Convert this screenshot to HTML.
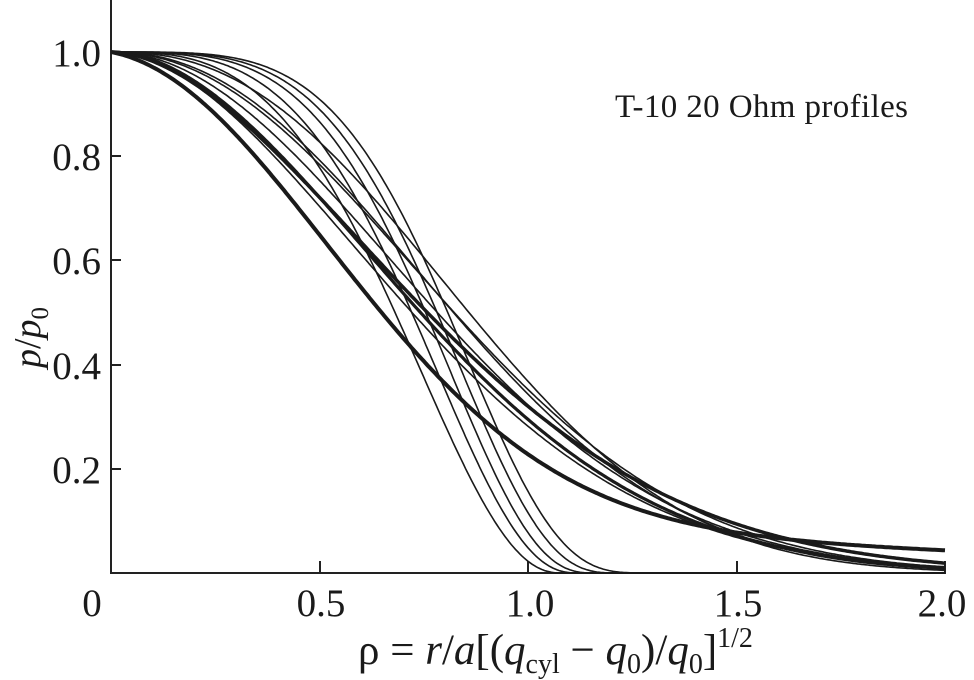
<!DOCTYPE html>
<html><head><meta charset="utf-8"><style>
body{margin:0;background:#fff;}
svg{display:block;font-family:"Liberation Serif",serif;}
</style></head><body>
<svg id="s" width="974" height="680" viewBox="0 0 974 680">
<g stroke="#222" stroke-width="2" fill="none">
<line x1="111" y1="0" x2="111" y2="574"/>
<line x1="110" y1="573" x2="946" y2="573"/>
<line x1="111" y1="52" x2="121" y2="52"/>
<line x1="111" y1="156" x2="121" y2="156"/>
<line x1="111" y1="260" x2="121" y2="260"/>
<line x1="111" y1="365" x2="121" y2="365"/>
<line x1="111" y1="469" x2="121" y2="469"/>
<line x1="320" y1="573" x2="320" y2="561"/>
<line x1="528" y1="573" x2="528" y2="561"/>
<line x1="737" y1="573" x2="737" y2="561"/>
<line x1="945" y1="573" x2="945" y2="561"/>
</g>
<g id="c" fill="none" stroke="#1a1a1a"></g>
<g font-size="39" fill="#1a1a1a" text-anchor="end">
<text x="101" y="66">1.0</text>
<text x="101" y="170">0.8</text>
<text x="101" y="274">0.6</text>
<text x="101" y="379">0.4</text>
<text x="101" y="483">0.2</text>
</g>
<g font-size="39" fill="#1a1a1a" text-anchor="middle">
<text x="92" y="616">0</text>
<text x="321" y="616">0.5</text>
<text x="530" y="616">1.0</text>
<text x="738" y="616">1.5</text>
<text x="942" y="616">2.0</text>
</g>
<text x="615" y="117" font-size="33" fill="#1a1a1a" textLength="293">T-10 20 Ohm profiles</text>
<text transform="translate(40,368) rotate(-90)" font-size="38" fill="#1a1a1a"><tspan font-style="italic">p</tspan>/<tspan font-style="italic">p</tspan><tspan font-size="25" dy="8">0</tspan></text>
<text x="358" y="664" font-size="43" fill="#1a1a1a">ρ = <tspan font-style="italic">r</tspan>/<tspan font-style="italic">a</tspan>[(<tspan font-style="italic">q</tspan><tspan font-size="28" dy="9">cyl</tspan><tspan dy="-9"> − </tspan><tspan font-style="italic">q</tspan><tspan font-size="28" dy="9">0</tspan><tspan dy="-9">)/</tspan><tspan font-style="italic">q</tspan><tspan font-size="28" dy="9">0</tspan><tspan dy="-9">]</tspan><tspan font-size="28" dy="-17">1/2</tspan></text>
<script>
(function(){
var g=document.getElementById('c');
function X(x){return 111+x*417;}function Y(v){return 52+(1-v)*521;}
function add(f,w){var d='';for(var i=0;i<=400;i++){var x=i*0.005;var v=f(x);if(v<0)v=0;d+=(i?'L':'M')+X(x).toFixed(1)+' '+Y(v).toFixed(1);}
var p=document.createElementNS('http://www.w3.org/2000/svg','path');p.setAttribute('d',d);p.setAttribute('stroke-width',w);g.appendChild(p);}
function steep(L,n,b){return function(x){if(x>=L)return 0;return Math.pow(1-Math.pow(x/L,n),b);};}
function ex(w,n){return function(x){return Math.exp(-Math.pow(x/w,n));};}
add(steep(1.08,3,2.4),1.6);add(steep(1.12,3.3,2.6),1.6);add(steep(1.16,3.6,2.9),1.6);
add(steep(1.22,3.8,3.4),1.6);add(steep(1.3,4,4.3),1.6);
add(function(x){return 0.8*Math.exp(-Math.pow(x/0.75,2))+0.2*Math.exp(-x/1.3);},4);
add(ex(0.93,1.8),3.5);add(ex(0.9,1.9),3.2);
add(ex(0.94,2.0),1.6);add(ex(0.97,2.2),1.6);add(ex(0.98,2.1),1.6);add(ex(0.88,1.85),1.6);add(ex(1.0,2.4),1.6);
})();
</script>
</svg>
</body></html>
